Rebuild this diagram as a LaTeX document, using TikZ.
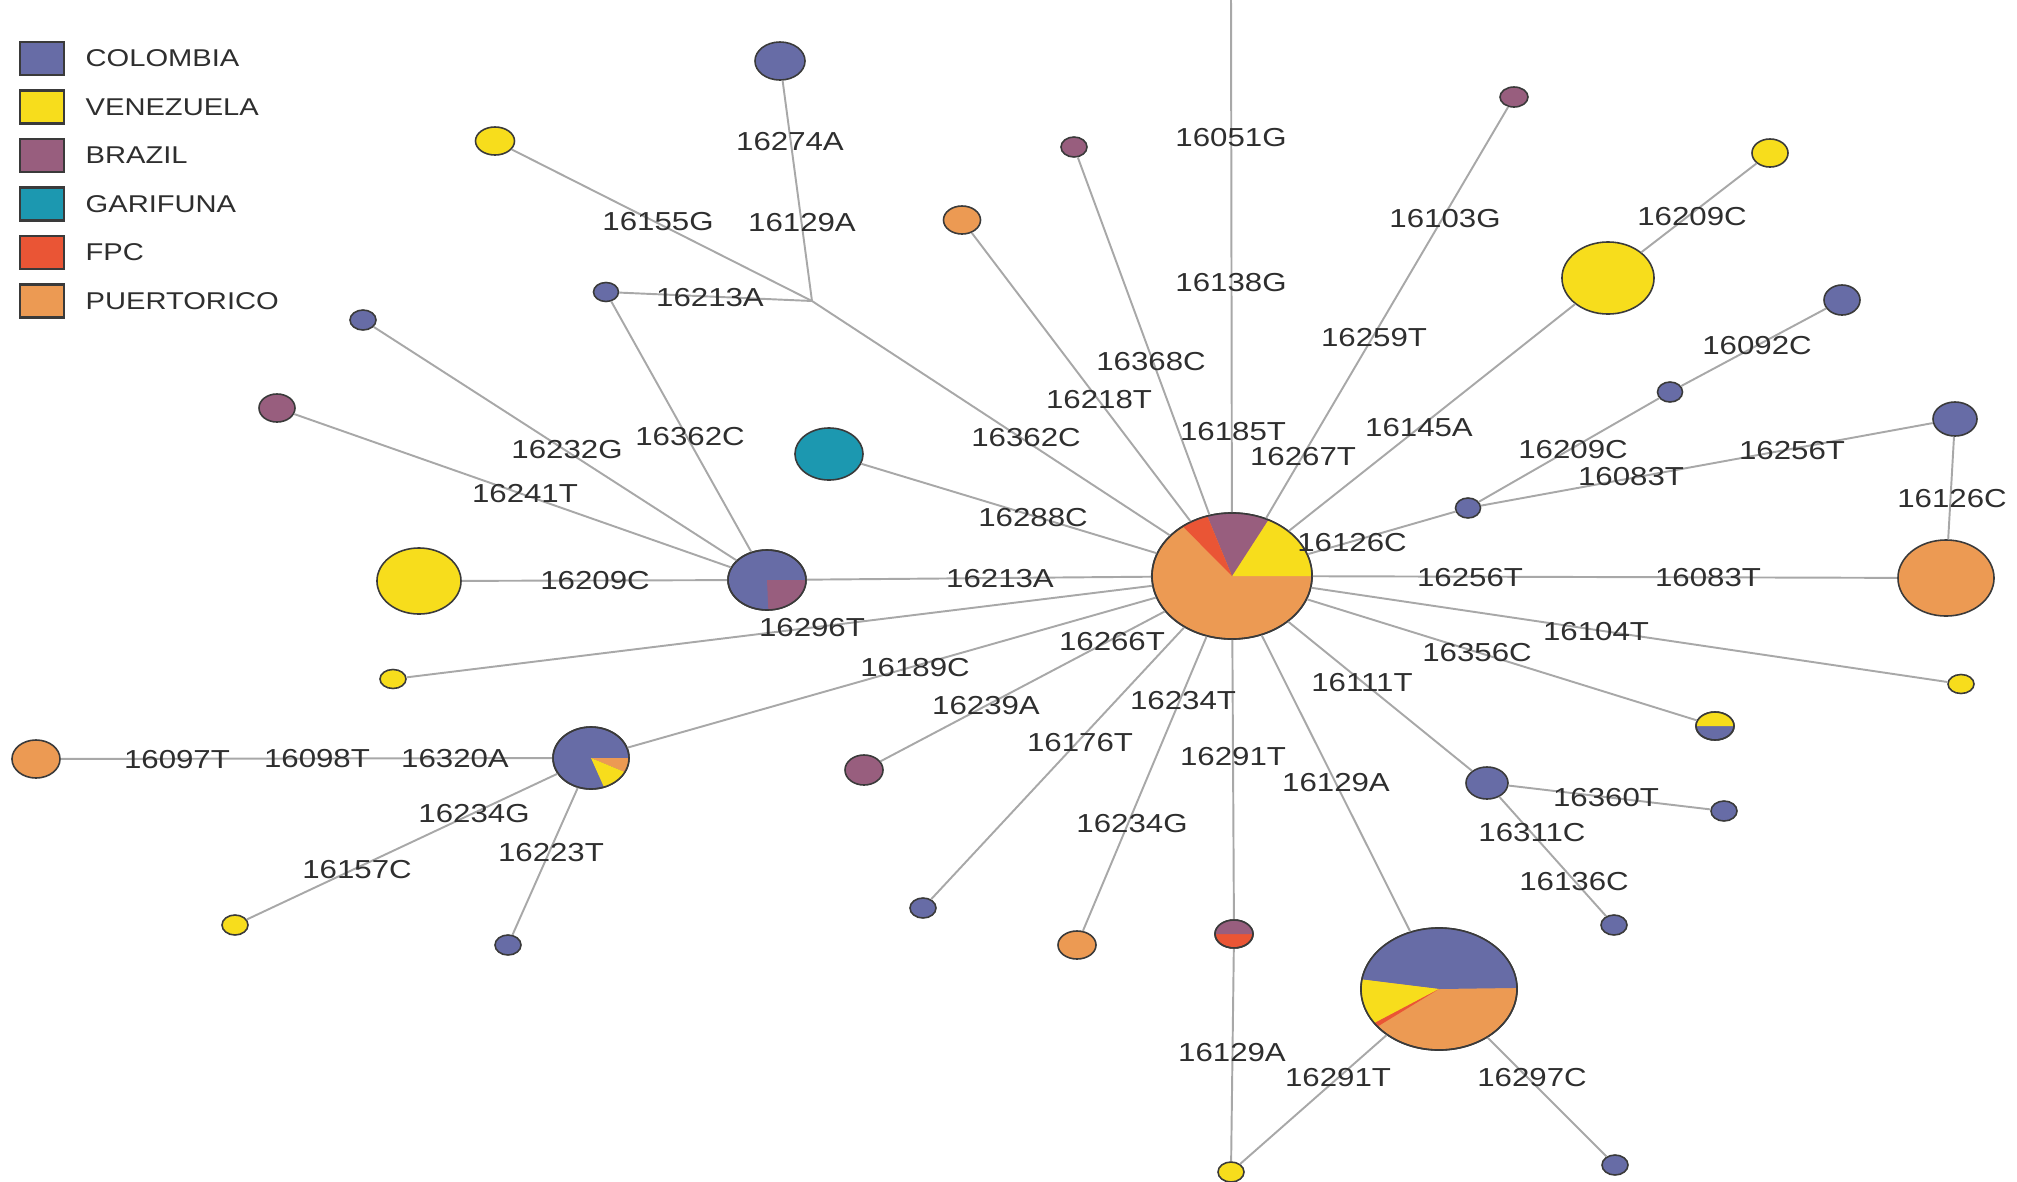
\documentclass[tikz,border=0pt]{standalone}
\usepackage{fontspec}
\setmainfont{Liberation Sans}[FakeStretch=1.2]
\usepackage{tikz}
\usetikzlibrary{shapes.geometric}
\definecolor{colo}{HTML}{676CA6}
\definecolor{vene}{HTML}{F7DD1C}
\definecolor{braz}{HTML}{985E7E}
\definecolor{gari}{HTML}{1C98B0}
\definecolor{fpc}{HTML}{EA5535}
\definecolor{puer}{HTML}{EC9A53}
\definecolor{ring}{HTML}{3A3A3A}
\definecolor{wire}{HTML}{A8A8A8}
\definecolor{ink}{HTML}{2E2E2E}

\tikzset{
  hap/.style={ellipse, draw=ring, line width=0.45pt, fill=#1, inner sep=0pt},
  key/.style={rectangle, draw=ring, line width=0.6pt, fill=#1, inner sep=0pt,
              minimum width=0.44cm, minimum height=0.33cm},
  edge/.style={draw=wire, line width=0.55pt},
  mut/.style={inner sep=0pt, text=ink, font=\fontsize{7.4}{8.5}\selectfont},
  keytext/.style={mut, anchor=west, font=\fontsize{6.9}{8}\selectfont},
}
% slice of an elliptic pie: node, x radius, y radius, from, to, colour
\newcommand\pieslice[6]{%
  \fill[#6] (#1.center) -- ++(#4:#2 and #3)
    arc[start angle=#4, end angle=#5, x radius=#2, y radius=#3] -- cycle;}

\begin{document}
\begin{tikzpicture}[x=0.01cm, y=-0.01cm]
  \useasboundingbox (0,0) rectangle (2017,1181);
  \clip (0,0) rectangle (2017,1181);

  % -- legend ---------------------------------------------------------------
  \foreach \name/\cc [count=\i from 0] in {COLOMBIA/colo, VENEZUELA/vene,
      BRAZIL/braz, GARIFUNA/gari, FPC/fpc, PUERTORICO/puer}{
    \node[key=\cc] (k\i) at (42,{58.5+48.5*\i}) {};
    \node[keytext] (t\i) at (85,{58.5+48.5*\i}) {\name};}

  % -- haplotypes: name / x / y / x radius / y radius / colour --------------
  \foreach \n/\x/\y/\rx/\ry/\cc in {
      C/1232/576/80/63/puer, top/1231/-11/13/10/vene,
      brT/1074/147/13/10/braz, orT/962/220/18.5/14/puer,
      brTR/1514/97/14/10/braz, yBig/1608/278/46/36/vene,
      ySm/1770/153/18/14/vene, cA/1468/508/12.5/10/colo,
      cB/1670/392/12.5/10/colo, cC/1842/300/18/15/colo,
      cD/1955/419/22/17/colo, orR/1946/578/48/38/puer,
      yR/1961/684/13/9.5/vene, yc/1715/726/19/14/colo,
      cE/1487/783/21/16/colo, cF/1724/811/13/10/colo,
      cG/1614/925/13/10/colo, pB/1439/989/78/61/puer,
      yB/1231/1172/13/10/vene, cH/1615/1165/13/10/colo,
      rb/1234/934/19/14/fpc, orB/1077/945/19/14/puer,
      cI/923/908/13/10/colo, brB/864/770/19/15/braz,
      pL/591/758/38/31/colo, orL/36/759/24/19/puer,
      yLL/235/925/13/10/vene, cJ/508/945/13/10/colo,
      yL/393/679/13/9.5/vene, pM/767/580/39/30/colo,
      yM/419/581/42/33/vene, brL/277/408/18/14/braz,
      cK/363/320/13/10/colo, cL/606/292/12.5/9.5/colo,
      cT/780/61/25/19/colo, yT/495/141/19.5/14/vene,
      teal/829/454/34/26/gari}{
    \node[hap=\cc, minimum width=\rx*0.02cm, minimum height=\ry*0.02cm]
      (\n) at (\x,\y) {};}
  \coordinate (J) at (812,301);

  % -- the mixed haplotypes (y runs down, so angles turn clockwise) ---------
  \pieslice{C}{80}{63}{0}{-63}{vene}
  \pieslice{C}{80}{63}{-63}{-108}{braz}
  \pieslice{C}{80}{63}{-108}{-128}{fpc}
  \pieslice{pB}{78}{61}{-1}{-171}{colo}
  \pieslice{pB}{78}{61}{-171}{-214}{vene}
  \pieslice{pB}{78}{61}{-214}{-218}{fpc}
  \pieslice{pL}{38}{31}{0}{27}{puer}
  \pieslice{pL}{38}{31}{27}{70}{vene}
  \pieslice{pM}{39}{30}{0}{88}{braz}
  \pieslice{yc}{19}{14}{-180}{0}{vene}
  \pieslice{rb}{19}{14}{-180}{0}{braz}
  \foreach \n/\rx/\ry in {C/80/63, pB/78/61, pL/38/31, pM/39/30, yc/19/14, rb/19/14}
    \draw[ring, line width=0.45pt] (\n.center) ellipse[x radius=\rx, y radius=\ry];

  % -- mutational steps -----------------------------------------------------
  \foreach \a/\b in {C/top, C/brT, C/orT, C/brTR, C/yBig, yBig/ySm, C/cA,
      cA/cB, cB/cC, cA/cD, cD/orR, C/orR, C/yR, C/yc, C/cE, cE/cF, cE/cG,
      C/pB, pB/yB, pB/cH, C/rb, rb/yB, C/orB, C/cI, C/brB, C/pL, pL/orL,
      pL/yLL, pL/cJ, C/yL, C/pM, pM/yM, pM/brL, pM/cK, pM/cL, cL/J, J/C,
      J/cT, J/yT, C/teal}
    \draw[edge] (\a) -- (\b);

  % -- mutation labels ------------------------------------------------------
  \foreach \t/\x/\y [count=\i] in {
      16051G/1231/138, 16138G/1231/283, 16185T/1233/432, 16368C/1151/362,
      16218T/1099/400, 16267T/1303/457, 16259T/1374/338, 16103G/1445/219,
      16145A/1419/428, 16209C/1692/217, 16126C/1352/543, 16209C/1573/450,
      16092C/1757/346, 16083T/1631/477, 16256T/1792/451, 16126C/1952/499,
      16256T/1470/578, 16083T/1708/578, 16104T/1596/632, 16356C/1477/653,
      16111T/1362/683, 16360T/1606/798, 16311C/1532/833, 16136C/1574/882,
      16129A/1336/783, 16291T/1338/1078, 16297C/1532/1078, 16291T/1233/757,
      16129A/1232/1053, 16234T/1183/701, 16234G/1132/824, 16176T/1080/743,
      16266T/1112/642, 16239A/986/706, 16189C/915/668, 16097T/177/760,
      16098T/317/759, 16320A/455/759, 16234G/474/814, 16157C/357/870,
      16223T/551/853, 16296T/812/628, 16213A/1000/579, 16209C/595/581,
      16241T/525/494, 16232G/567/450, 16362C/690/437, 16213A/710/298,
      16362C/1026/438, 16274A/790/142, 16129A/802/223, 16155G/658/222,
      16288C/1033/518}
    \node[mut] (m\i) at (\x,\y) {\t};

\end{tikzpicture}
\end{document}
